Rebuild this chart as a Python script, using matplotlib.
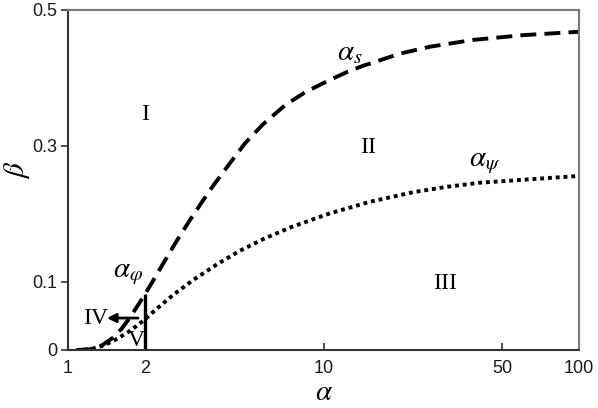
import matplotlib
matplotlib.use("Agg")
import matplotlib.pyplot as plt

plt.rcParams['mathtext.fontset'] = 'stix'

# dashed curve alpha_s
alpha_s = [1.08, 1.22, 1.36, 1.50, 1.62, 1.75, 1.88, 2.0, 2.13, 2.40, 2.67, 3.00, 3.35, 3.69,
           4.19, 4.93, 5.80, 7.07, 8.47, 10.3, 12.4, 14.3, 16.6, 20.0, 26.1, 38.5, 60.3, 100]
beta_s = [0.0, 0.001, 0.007, 0.018, 0.031, 0.048, 0.066, 0.082, 0.099, 0.132, 0.161, 0.191, 0.218, 0.241,
          0.269, 0.304, 0.332, 0.360, 0.379, 0.395, 0.409, 0.418, 0.426, 0.436, 0.446, 0.456, 0.463, 0.468]

# dotted curve alpha_psi
alpha_psi = [1.08, 1.22, 1.36, 1.50, 1.70, 1.85, 2.0, 2.23, 2.58, 3.09, 3.83, 4.71, 5.80, 7.39,
             10.6, 15.2, 22.4, 30.4, 41.0, 100]
beta_psi = [0.0, 0.001, 0.006, 0.013, 0.025, 0.035, 0.045, 0.061, 0.081, 0.103, 0.126, 0.146, 0.163, 0.180,
            0.201, 0.218, 0.232, 0.240, 0.246, 0.256]

# vertical boundary alpha_phi
alpha_phi = 2.0
beta_phi_top = 0.082

x_ticks = [1, 2, 10, 50, 100]
x_ticklabels = ['1', '2', '10', '50', '100']
y_ticks = [0, 0.1, 0.3, 0.5]
y_ticklabels = ['0', '0.1', '0.3', '0.5']

fig = plt.figure(figsize=(5.98, 4.08), dpi=100)
ax = fig.add_axes([68/598, 1-350/408, (579-68)/598, (350-10)/408])

ax.plot(alpha_s, beta_s, color='black', lw=2.8, linestyle=(0, (4.1, 2.1)),
        dash_capstyle='butt', dash_joinstyle='round')
ax.plot(alpha_psi, beta_psi, color='black', lw=2.8, linestyle=(0, (1.0, 1.0)),
        dash_capstyle='butt', dash_joinstyle='round')
ax.plot([alpha_phi, alpha_phi], [0, beta_phi_top], color='black', lw=2.4, solid_capstyle='butt')

ax.annotate('', xy=(1.42, 0.047), xytext=(1.88, 0.047),
            arrowprops=dict(arrowstyle='-|>', color='black', lw=2.0, mutation_scale=13,
                            shrinkA=0, shrinkB=0))

ax.set_xscale('log')
ax.set_xlim(1, 100)
ax.set_ylim(0, 0.5)
ax.set_xticks(x_ticks)
ax.set_xticklabels(x_ticklabels)
ax.minorticks_off()
ax.set_yticks(y_ticks)
ax.set_yticklabels(y_ticklabels)

ax.tick_params(axis='both', labelsize=13, labelfontfamily='Liberation Sans',
               labelcolor='#1a1a1a', color='#333333', width=1.2, length=5)
ax.tick_params(axis='x', direction='in', pad=7)
ax.tick_params(axis='y', direction='out', pad=3)

for s in ['left', 'bottom']:
    ax.spines[s].set_color('#333333')
    ax.spines[s].set_linewidth(1.5)
for s in ['top', 'right']:
    ax.spines[s].set_color('#7a7a7a')
    ax.spines[s].set_linewidth(1.5)

ax.set_xlabel(r'$\alpha$', fontsize=21, labelpad=1)
ax.text(-0.10, 0.53, r'$\beta$', transform=ax.transAxes, rotation=90,
        ha='center', va='center', fontsize=21)

serif = dict(family='Liberation Serif', fontsize=17, ha='center', va='center')
ax.text(2.0, 0.346, 'I', **serif)
ax.text(14.9, 0.2985, 'II', **serif)
ax.text(29.9, 0.0985, 'III', **serif)
ax.text(1.28, 0.047, 'IV', **serif)
ax.text(1.85, 0.014, 'V', **serif)

ax.text(12.7, 0.438, r'$\alpha_s$', fontsize=21, ha='center', va='center')
ax.text(42.9, 0.277, r'$\alpha_\psi$', fontsize=21, ha='center', va='center')
ax.text(1.72, 0.113, r'$\alpha_\varphi$', fontsize=21, ha='center', va='center')

fig.savefig('out.png', dpi=100)
